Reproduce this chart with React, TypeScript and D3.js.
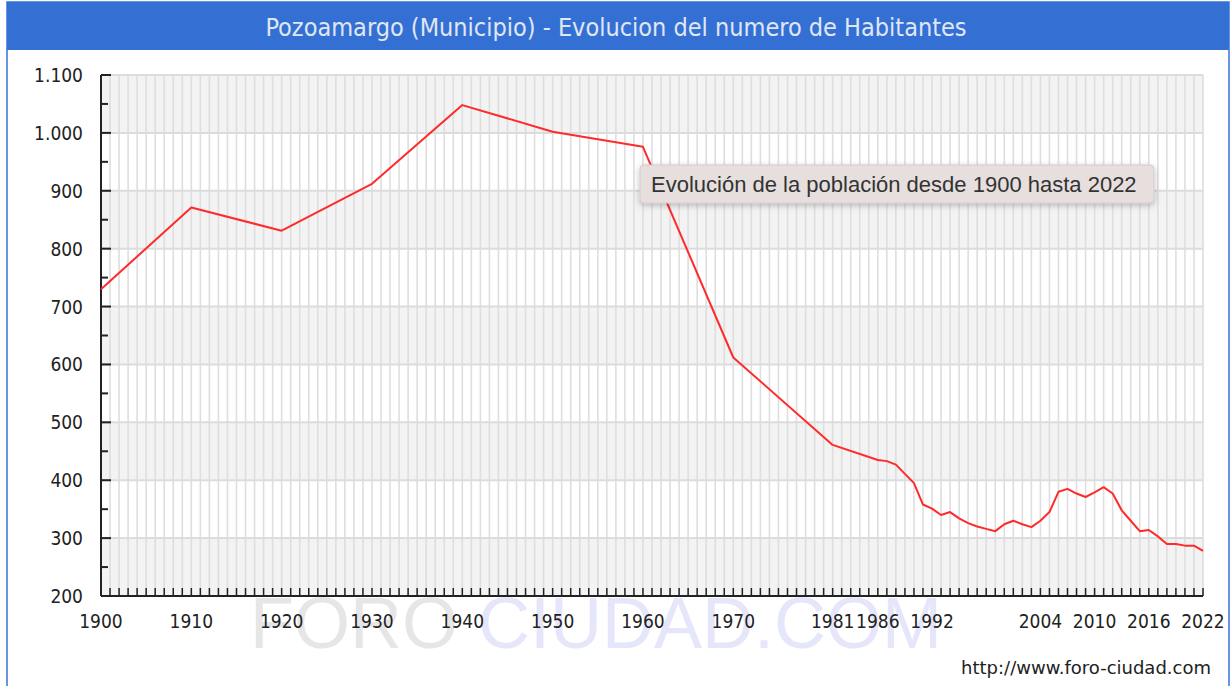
import React from "react";
import * as d3 from "d3";

const titleText = "Pozoamargo (Municipio) - Evolucion del numero de Habitantes";
const tooltipText = "Evolución de la población desde 1900 hasta 2022";
const urlText = "http://www.foro-ciudad.com";

const years = [
  1900, 1910, 1920, 1930, 1940, 1950, 1960, 1970, 1981, 1986, 1987, 1988, 1989, 1990,
  1991, 1992, 1993, 1994, 1995, 1996, 1997, 1998, 1999, 2000, 2001, 2002, 2003, 2004,
  2005, 2006, 2007, 2008, 2009, 2010, 2011, 2012, 2013, 2014, 2015, 2016, 2017, 2018,
  2019, 2020, 2021, 2022,
];
const population = [
  730, 871, 831, 912, 1048, 1002, 976, 612, 461, 435, 433, 427, 411, 395,
  358, 351, 340, 345, 334, 326, 320, 316, 312, 324, 330, 324, 319, 330,
  345, 380, 385, 377, 371, 379, 388, 377, 348, 330, 312, 314, 303, 290,
  290, 287, 287, 278,
];
const xTickLabels = [1900, 1910, 1920, 1930, 1940, 1950, 1960, 1970, 1981, 1986, 1992, 2004, 2010, 2016, 2022];
const yTickValues = [200, 300, 400, 500, 600, 700, 800, 900, 1000, 1100];

const W = 1232;
const H = 686;

export default function App() {
  const x = d3.scaleLinear().domain([1900, 2022]).range([101, 1203]);
  const y = d3.scaleLinear().domain([200, 1100]).range([596, 75]);
  const fmt = d3.formatLocale({ decimal: ",", thousands: ".", grouping: [3], currency: ["", ""] }).format(",");

  const line = d3
    .line<number>()
    .x((_, i) => x(years[i]))
    .y((d) => y(d));

  const allYears = d3.range(1900, 2023);
  const minorY = d3.range(250, 1100, 100);
  const bands = d3.range(200, 1100, 200);

  const axisFont = "'DejaVu Sans Condensed', 'DejaVu Sans', sans-serif";

  return (
    <div style={{ position: "absolute", left: 0, top: 0, width: W, height: H, background: "#fff" }}>
      <svg width={W} height={H} style={{ display: "block" }}>
        <defs>
          <filter id="shadow" x="-10%" y="-40%" width="120%" height="200%">
            <feDropShadow dx="0" dy="2" stdDeviation="3" floodColor="#000" floodOpacity="0.25" />
          </filter>
        </defs>
        <rect x={0} y={0} width={W} height={H} fill="#fff" />
        {/* frame */}
        <rect x={7} y={2} width={1222} height={H + 10} fill="none" stroke="#3a72d8" strokeWidth={1.5} />
        <rect x={7} y={2} width={1222} height={48} fill="#3470d4" />
        <text
          x={616}
          y={36}
          textAnchor="middle"
          fontFamily={axisFont}
          fontStretch="condensed"
          fontSize={25}
          fill="#e0e7f4"
        >
          {titleText}
        </text>

        {/* background bands */}
        {bands.map((b) => (
          <rect key={b} x={x(1900)} y={y(b + 100)} width={x(2022) - x(1900)} height={y(b) - y(b + 100)} fill="#f3f3f3" />
        ))}
        {/* vertical grid */}
        {allYears.map((yr) => (
          <line key={yr} x1={x(yr)} x2={x(yr)} y1={y(1100)} y2={y(200)} stroke="#dedede" strokeWidth={1.6} />
        ))}
        {/* horizontal grid */}
        {yTickValues.map((v) => (
          <line key={v} x1={x(1900)} x2={x(2022)} y1={y(v)} y2={y(v)} stroke="#dcdcdc" strokeWidth={2} />
        ))}

        {/* watermark */}
        <text x={250} y={648} fontFamily="'Liberation Sans', Arial, sans-serif" fontSize={72} fill="#e0e0e0" opacity={0.8}>
          FORO{" "}
          <tspan fill="#e0e0fa">CIUDAD.COM</tspan>
        </text>

        {/* axes */}
        <line x1={x(1900)} x2={x(1900)} y1={y(1100)} y2={y(200)} stroke="#222" strokeWidth={2} />
        <line x1={x(1900)} x2={x(2022)} y1={y(200)} y2={y(200)} stroke="#222" strokeWidth={2} />
        {yTickValues.map((v) => (
          <line key={"mt" + v} x1={x(1900)} x2={x(1900) + 10} y1={y(v)} y2={y(v)} stroke="#222" strokeWidth={2} />
        ))}
        {minorY.map((v) => (
          <line key={"nt" + v} x1={x(1900)} x2={x(1900) + 7} y1={y(v)} y2={y(v)} stroke="#222" strokeWidth={2} />
        ))}
        {allYears.map((yr) => (
          <line key={"xt" + yr} x1={x(yr)} x2={x(yr)} y1={y(200)} y2={y(200) - 8} stroke="#222" strokeWidth={1.5} />
        ))}

        {/* y labels */}
        {yTickValues.map((v) => (
          <text
            key={"yl" + v}
            x={83}
            y={y(v) + 7}
            textAnchor="end"
            fontFamily={axisFont}
            fontStretch="condensed"
            fontSize={19}
            fill="#222"
          >
            {fmt(v)}
          </text>
        ))}
        {/* x labels */}
        {xTickLabels.map((yr) => (
          <text
            key={"xl" + yr}
            x={x(yr)}
            y={628}
            textAnchor="middle"
            fontFamily={axisFont}
            fontStretch="condensed"
            fontSize={19}
            fill="#222"
          >
            {yr}
          </text>
        ))}

        {/* data line */}
        <path d={line(population) || ""} fill="none" stroke="#ff2a2a" strokeWidth={2} strokeLinejoin="round" />

        {/* tooltip */}
        <rect x={640} y={165} width={514} height={38} rx={4} fill="#e6dfde" stroke="#d4cccc" strokeWidth={1} filter="url(#shadow)" />
        <text x={651} y={192} fontFamily="'Liberation Sans', Arial, sans-serif" fontSize={22} fill="#333">
          {tooltipText}
        </text>

        {/* url */}
        <text x={1211} y={674} textAnchor="end" fontFamily="'DejaVu Sans', sans-serif" fontSize={18} fill="#222">
          {urlText}
        </text>
      </svg>
    </div>
  );
}
